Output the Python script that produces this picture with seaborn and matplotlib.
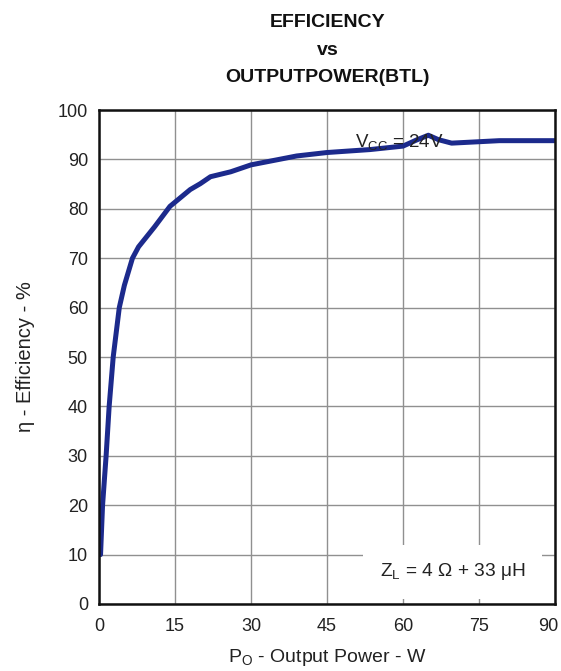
import numpy as np
import pandas as pd
import matplotlib
matplotlib.use('Agg')
import matplotlib.pyplot as plt
import matplotlib.transforms as mtransforms
import seaborn as sns

# Curve (P_O in W, efficiency in %)
power = [0.3, 0.7, 1.4, 2.0, 2.8, 4.0, 5.0, 6.6, 7.8, 11.0, 14.0, 18.0, 20.0, 22.0,
         26.0, 30.0, 39.0, 45.0, 53.5, 60.0, 62.6, 65.0, 67.0, 69.6, 79.0, 90.0]
efficiency = [10, 20, 30, 40, 50, 60, 64.5, 70, 72.3, 76.4, 80.5, 83.9, 85.1, 86.5,
              87.5, 88.9, 90.7, 91.4, 92.0, 92.7, 93.9, 94.9, 94.0, 93.3, 93.8, 93.8]
x_ticks = [0, 15, 30, 45, 60, 75, 90]
y_ticks = [0, 10, 20, 30, 40, 50, 60, 70, 80, 90, 100]
title_lines = ['EFFICIENCY', 'vs', 'OUTPUTPOWER(BTL)']

df = pd.DataFrame({'power': power, 'efficiency': efficiency})

sns.set_style('white')
plt.rcParams['font.family'] = ['Liberation Sans', 'DejaVu Sans']
plt.rcParams['mathtext.fontset'] = 'custom'
plt.rcParams['mathtext.rm'] = 'Liberation Sans'
plt.rcParams['mathtext.it'] = 'Liberation Sans'

txt = '#222222'
fig = plt.figure(figsize=(5.61, 6.71), dpi=100)
ax = fig.add_axes([0.1765, 0.0999, 0.8128, 0.7361])

sns.lineplot(data=df, x='power', y='efficiency', ax=ax, color='#1c2a8c',
             linewidth=3.6, sort=False, zorder=2)

ax.set_xlim(0, 90)
ax.set_ylim(0, 100)
ax.set_xticks(x_ticks)
ax.set_yticks(y_ticks)
ax.grid(True, color='#909090', linewidth=1.0)
ax.set_axisbelow(True)
ax.tick_params(length=0, labelsize=13, labelcolor=txt)
ax.tick_params(axis='x', pad=10)
ax.tick_params(axis='y', pad=8)
for s in ax.spines.values():
    s.set_visible(True)
    s.set_color('#111111')
    s.set_linewidth(1.8)

# last x label sits a little left of its tick, as in the reference
last = ax.get_xticklabels()[-1]
last.set_transform(last.get_transform() +
                   mtransforms.ScaledTranslation(-0.07, 0, fig.dpi_scale_trans))

ax.set_xlabel(r'$\mathrm{P_O}$ - Output Power - W', fontsize=14, color=txt, labelpad=9)
ax.set_ylabel('η - Efficiency - %', fontsize=14.5, color=txt, labelpad=16)

ax.text(50.5, 93.6, r'$\mathrm{V_{CC}}$ = 24V', fontsize=13.5, color=txt,
        va='center', ha='left', zorder=3)
ax.text(69.8, 6.5, r'$\mathrm{Z_L}$ = 4 Ω + 33 μH', fontsize=13.8, color=txt,
        va='center', ha='center', zorder=3,
        bbox=dict(facecolor='white', edgecolor='none', pad=12))

for i, line in enumerate(title_lines):
    fig.text(0.584, 0.966 - i * 0.041, line, fontsize=14, fontweight='bold',
             color='#111111', ha='center', va='center')

fig.savefig('out.png', dpi=100)
